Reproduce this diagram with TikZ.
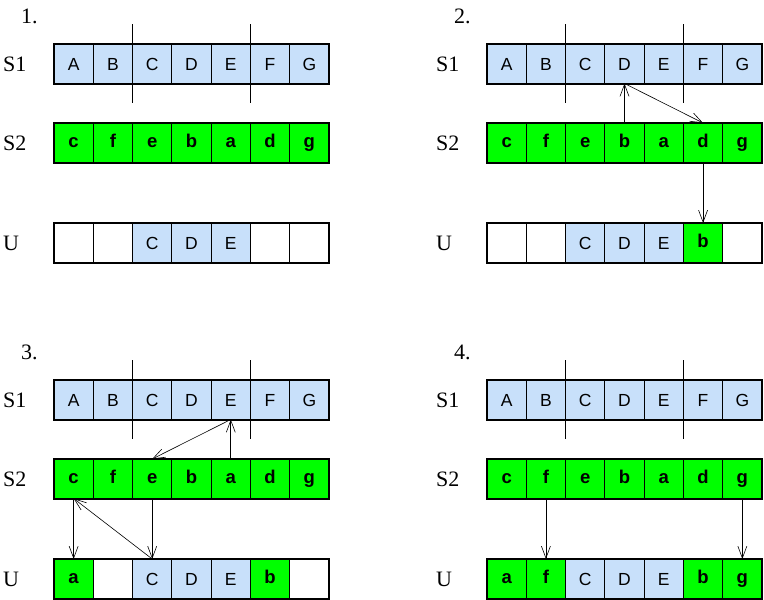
\documentclass[tikz,border=0pt]{standalone}
\usepackage{fontspec}
\setmainfont{Liberation Serif}
\newfontfamily\cellfont{Liberation Sans}
\usetikzlibrary{arrows.meta}
\definecolor{lblue}{RGB}{200,224,250}
\definecolor{lgreen}{RGB}{0,255,0}
\tikzset{
  cell/.style={draw, line width=0.8pt, minimum width=39.29pt, minimum height=39.5pt,
    inner sep=0pt, outer sep=0pt, text depth=0pt, font=\cellfont\fontsize{17.5}{19}\selectfont},
  bl/.style={fill=lblue, text height=12.5pt},
  gr/.style={fill=lgreen, text height=9.6pt, font=\cellfont\bfseries\fontsize{18.5}{20}\selectfont},
  wh/.style={fill=white},
  outer/.style={draw, line width=2pt},
  cut/.style={draw, line width=0.8pt},
  lab/.style={anchor=west, inner sep=0pt, font=\fontsize{22}{24}\selectfont},
  arr/.style={-{Straight Barb[length=12pt,width=9pt,line width=0.6pt]}, line width=0.6pt, shorten >=0pt}
}
\newcommand\myrow[4]{%
  \foreach [count=\i] \t/\s in {#4} {
    \node[cell,\s] (#1c\i) at ({#2+(\i-0.5)*39.2857},{#3+19.75}) {\t};
  }
  \draw[outer] (#1c1.north west) rectangle (#1c7.south east);
}
\newcommand\mypanel[6]{% #1 name, #2 x, #3 y, #4 number, #5 U row list, #6 U y offset
  \myrow{#1s1}{#2}{#3}{A/bl,B/bl,C/bl,D/bl,E/bl,F/bl,G/bl}
  \myrow{#1s2}{#2}{#3+79}{c/gr,f/gr,e/gr,b/gr,a/gr,d/gr,g/gr}
  \myrow{#1u}{#2}{#3+#6}{#5}
  \draw[cut] ([yshift=20pt]#1s1c3.north west) -- ([yshift=-19pt]#1s1c3.south west);
  \draw[cut] ([yshift=20pt]#1s1c6.north west) -- ([yshift=-19pt]#1s1c6.south west);
  \node[lab] (#1num) at ({#2-33},{#3-28}) {#4};
  \node[lab] (#1l1) at ({#2-51},{#3+20}) {S1};
  \node[lab] (#1l2) at ({#2-51},{#3+99}) {S2};
  \node[lab] (#1l3) at ({#2-51},{#3+#6+20}) {U};
}
\begin{document}
\begin{tikzpicture}[x=1pt,y=-1pt]
\useasboundingbox (0,0) rectangle (764,600);
\mypanel{p1}{54}{44}{1.}{{}/wh,{}/wh,C/bl,D/bl,E/bl,{}/wh,{}/wh}{179}
\mypanel{p2}{487}{44}{2.}{{}/wh,{}/wh,C/bl,D/bl,E/bl,b/gr,{}/wh}{179}
\mypanel{p3}{54}{380}{3.}{a/gr,{}/wh,C/bl,D/bl,E/bl,b/gr,{}/wh}{179}
\mypanel{p4}{487}{380}{4.}{a/gr,f/gr,C/bl,D/bl,E/bl,b/gr,g/gr}{179}
% panel 2 arrows
\draw[arr] (p2s2c4.north) -- (p2s1c4.south);
\draw[arr] (p2s1c4.south) -- (p2s2c6.north);
\draw[arr] (p2s2c6.south) -- (p2uc6.north);
% panel 3 arrows
\draw[arr] (p3s2c5.north) -- (p3s1c5.south);
\draw[arr] (p3s1c5.south) -- (p3s2c3.north);
\draw[arr] (p3s2c3.south) -- (p3uc3.north);
\draw[arr] (p3uc3.north) -- (p3s2c1.south);
\draw[arr] (p3s2c1.south) -- (p3uc1.north);
% panel 4 arrows
\draw[arr] (p4s2c2.south) -- (p4uc2.north);
\draw[arr] (p4s2c7.south) -- (p4uc7.north);
\end{tikzpicture}
\end{document}
